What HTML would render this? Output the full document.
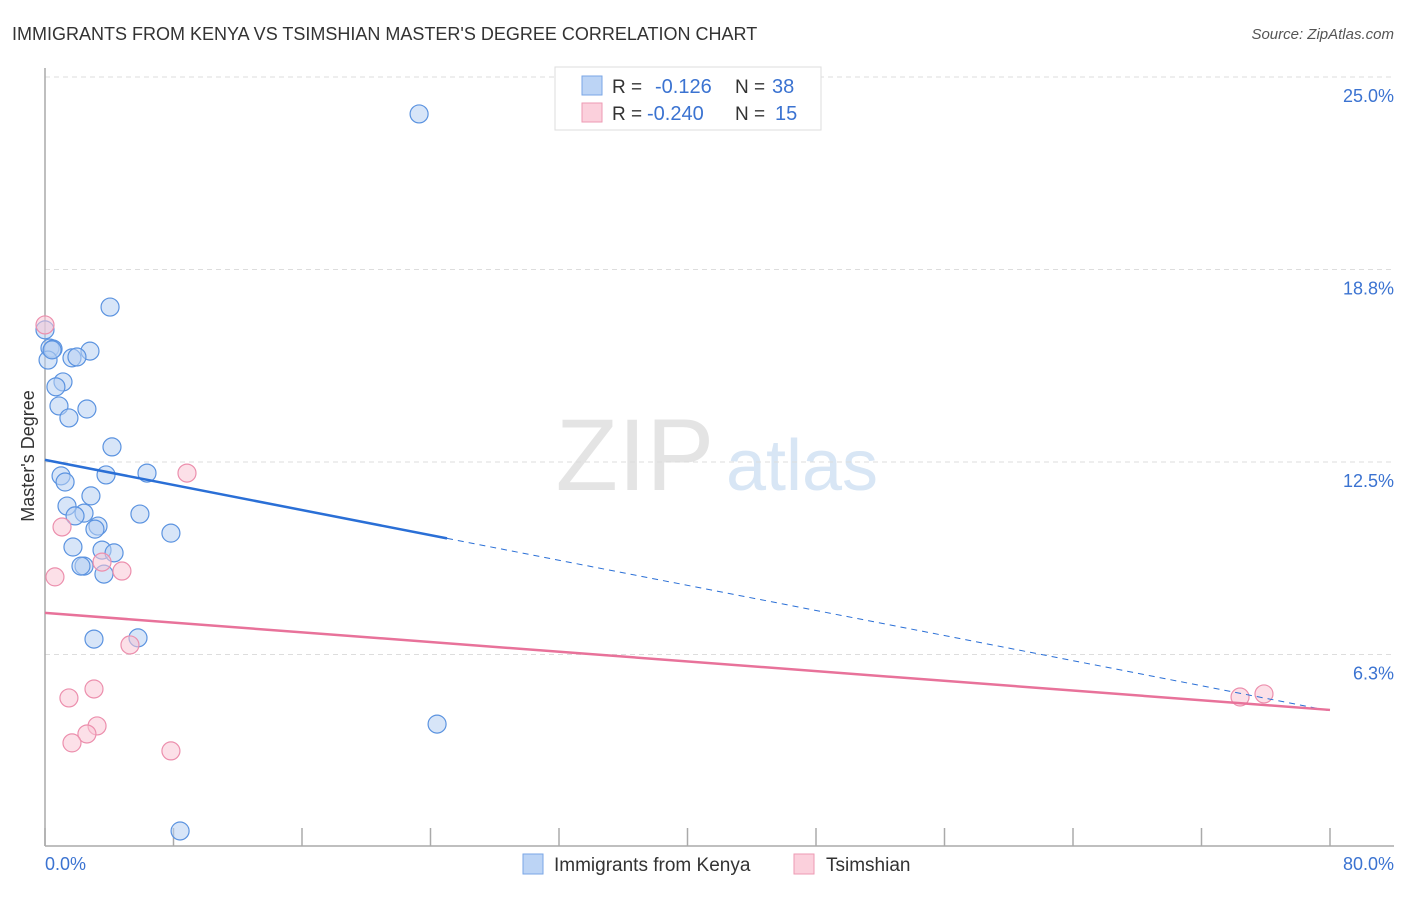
<!DOCTYPE html>
<html><head><meta charset="utf-8"><style>
body{margin:0;background:#fff;font-family:"Liberation Sans",sans-serif}
svg text{font-family:"Liberation Sans",sans-serif}
</style></head><body>
<svg width="1406" height="892" viewBox="0 0 1406 892">
<text x="12" y="40" font-size="18" fill="#333">IMMIGRANTS FROM KENYA VS TSIMSHIAN MASTER'S DEGREE CORRELATION CHART</text>
<text x="1394" y="39" font-size="15" fill="#555" text-anchor="end" font-style="italic">Source: ZipAtlas.com</text>
<g>
<text x="635" y="490" font-size="102" fill="#e4e4e4" text-anchor="middle" font-family="Liberation Serif">ZIP</text>
<text x="802" y="490" font-size="72" fill="#d8e6f5" text-anchor="middle">atlas</text>
</g>
<g id="grid"></g>
<g id="axes"></g>
<g id="marks"></g>
<text transform="translate(34,456) rotate(-90)" font-size="18" fill="#333" text-anchor="middle">Master's Degree</text>
<text x="45" y="870" font-size="18" fill="#3b73d1">0.0%</text>
<text x="1394" y="870" font-size="18" fill="#3b73d1" text-anchor="end">80.0%</text>
<g>
<rect x="555" y="67" width="266" height="63" fill="#fff" stroke="#ddd"/>
<rect x="582" y="76" width="20" height="19" fill="#bcd4f5" stroke="#7aa6e6"/>
<rect x="582" y="103" width="20" height="19" fill="#fbd0dc" stroke="#ee9ab3"/>
<text x="612" y="93" font-size="19" fill="#333">R =</text>
<text x="655" y="93" font-size="20" fill="#3b73d1">-0.126</text>
<text x="735" y="93" font-size="19" fill="#333">N =</text>
<text x="772" y="93" font-size="20" fill="#3b73d1">38</text>
<text x="612" y="120" font-size="19" fill="#333">R =</text>
<text x="647" y="120" font-size="20" fill="#3b73d1">-0.240</text>
<text x="735" y="120" font-size="19" fill="#333">N =</text>
<text x="775" y="120" font-size="20" fill="#3b73d1">15</text>
</g>
<g>
<rect x="523" y="854" width="20" height="20" fill="#bcd4f5" stroke="#7aa6e6"/>
<text x="554" y="871" font-size="19" fill="#333">Immigrants from Kenya</text>
<rect x="794" y="854" width="20" height="20" fill="#fbd0dc" stroke="#ee9ab3"/>
<text x="826" y="871" font-size="19" fill="#333">Tsimshian</text>
</g>
</svg>
<script>
const yTicks=[25.0,18.75,12.5,6.25];
const yTickLabels=["25.0%","18.8%","12.5%","6.3%"];
const xTicks=[0,8,16,24,32,40,48,56,64,72,80];
const kenyaX=[23.29,4.05,0,0.31,0.50,2.80,1.68,1.99,1.12,0.68,0.87,2.61,1.49,4.17,1.00,3.80,6.35,1.25,2.86,1.37,2.43,1.87,5.91,3.30,3.11,7.84,1.74,3.55,4.30,2.43,2.24,3.67,3.05,5.79,24.41,8.41,0.19,0.44];
const kenyaY=[23.80,17.53,16.79,16.20,16.17,16.10,15.88,15.91,15.10,14.94,14.32,14.22,13.93,12.99,12.05,12.08,12.14,11.85,11.40,11.07,10.84,10.75,10.81,10.42,10.32,10.19,9.74,9.64,9.55,9.12,9.12,8.86,6.75,6.79,3.99,0.52,15.81,16.14];
const tsimX=[0,8.84,1.06,0.62,3.55,4.79,5.29,3.05,1.49,3.24,2.61,1.68,7.84,74.40,75.89];
const tsimY=[16.95,12.14,10.39,8.77,9.25,8.96,6.56,5.13,4.84,3.93,3.67,3.38,3.12,4.87,4.97];
const kenyaTrend=[12.57,4.42];
const kenyaSolidEnd=25.03;
const tsimTrend=[7.60,4.45];
const X=v=>45+v*1285/80;
const Y=v=>847-v*192.5/6.25;
const NS="http://www.w3.org/2000/svg";
function mk(tag,attrs,parent){const e=document.createElementNS(NS,tag);for(const k in attrs)e.setAttribute(k,attrs[k]);parent.appendChild(e);return e;}
const grid=document.getElementById('grid'),axes=document.getElementById('axes'),marks=document.getElementById('marks');
yTicks.forEach((t,i)=>{
 const l=mk('line',{x1:45,x2:1394,y1:Y(t),y2:Y(t),stroke:'#ddd','stroke-dasharray':'5,4'},grid);
 
 
 const tx=mk('text',{x:1394,y:Y(t)+25,'font-size':18,fill:'#3b73d1','text-anchor':'end'},grid);
 tx.textContent=yTickLabels[i];
 
 
});
const ya=mk('line',{x1:45,x2:45,y1:68,y2:846,stroke:'#aaa','stroke-width':1.5},axes);


const xa=mk('line',{x1:45,x2:1394,y1:846,y2:846,stroke:'#aaa','stroke-width':1.5},axes);


xTicks.forEach(t=>{
 const l=mk('line',{x1:X(t),x2:X(t),y1:828,y2:846,stroke:'#aaa','stroke-width':1.5},axes);
 
 
});
function dots(xs,ys,fill,stroke,name){xs.forEach((x,i)=>{
 const c=mk('circle',{cx:X(x),cy:Y(ys[i]),r:9,fill:fill,'fill-opacity':0.55,stroke:stroke,'stroke-width':1.2},marks);
 
 
});}
dots(kenyaX,kenyaY,'#b7d0f3','#5b93e0','kenya-point');
dots(tsimX,tsimY,'#f9c6d5','#ec8fad','tsimshian-point');
const kAt=x=>kenyaTrend[0]+(kenyaTrend[1]-kenyaTrend[0])*x/80;
const k1=mk('line',{x1:X(0),y1:Y(kAt(0)),x2:X(kenyaSolidEnd),y2:Y(kAt(kenyaSolidEnd)),stroke:'#2a6fd6','stroke-width':2.5},marks);


const k2=mk('line',{x1:X(kenyaSolidEnd),y1:Y(kAt(kenyaSolidEnd)),x2:X(80),y2:Y(kAt(80)),stroke:'#2a6fd6','stroke-width':1,'stroke-dasharray':'6,5'},marks);


const t1=mk('line',{x1:X(0),y1:Y(tsimTrend[0]),x2:X(80),y2:Y(tsimTrend[1]),stroke:'#e8729a','stroke-width':2.5},marks);


</script>
</body></html>
